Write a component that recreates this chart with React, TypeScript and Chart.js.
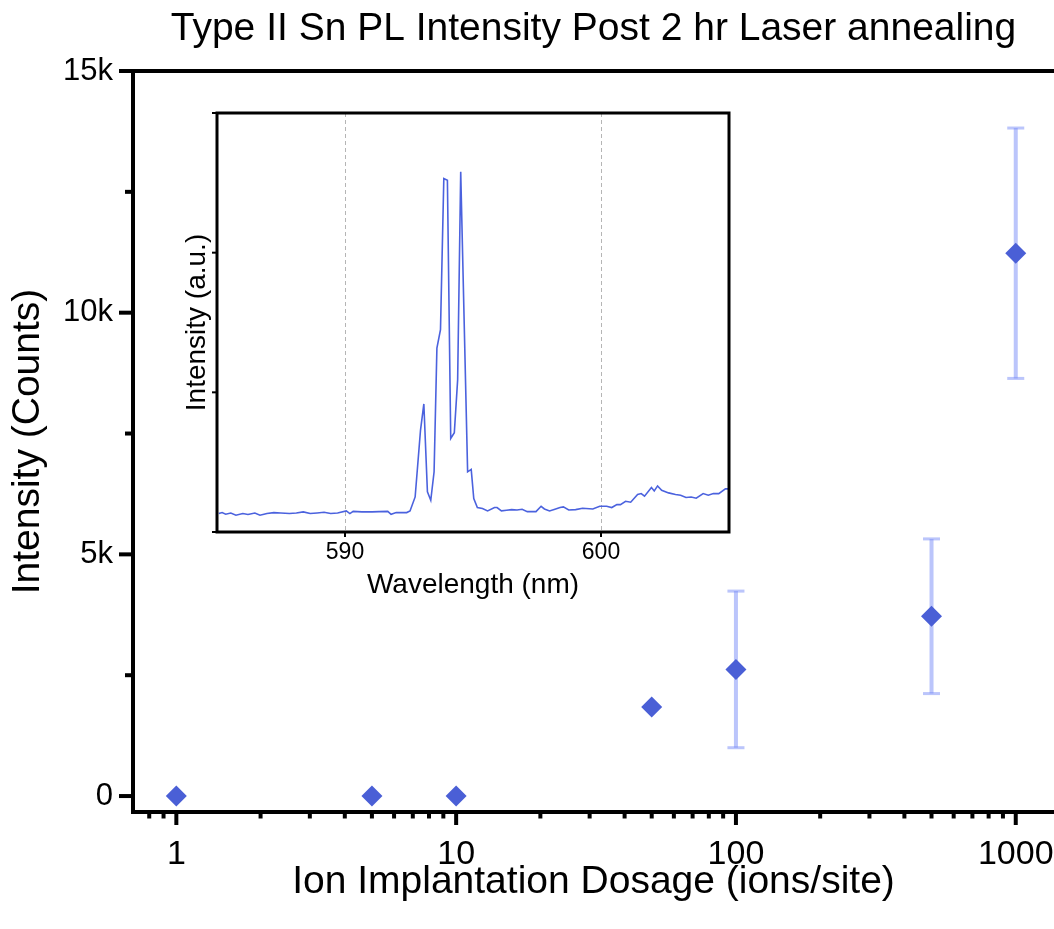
import React, { useEffect, useRef } from 'react';
import { Chart, registerables } from 'chart.js';

Chart.register(...registerables);

const FONT = '"Liberation Sans", Arial, sans-serif';
const BLUE = '#4a5fd6';
const ERR_BLUE = 'rgba(120, 140, 248, 0.5)';

// Main chart data
const dosage = [1, 5, 10, 50, 100, 500, 1000];
const intensity = [0, 0, 0, 1840, 2620, 3720, 11230];
const intensityErr = [null, null, null, null, 1620, 1600, 2590];

const xTickValues = [1, 10, 100, 1000];
const xMinorTickValues = [0.8, 0.9, 2, 3, 4, 5, 6, 7, 8, 9, 20, 30, 40, 50, 60, 70, 80, 90, 200, 300, 400, 500, 600, 700, 800, 900];
const yTickValues = [0, 5000, 10000, 15000];
const yMinorTickValues = [2500, 7500, 12500];

// Inset spectrum data
const wavelength = [
  585.07, 585.2, 585.34, 585.54, 585.74, 586.01, 586.21, 586.48, 586.68, 586.95,
  587.22, 587.49, 587.83, 588.1, 588.37, 588.64, 588.91, 589.18, 589.44, 589.71,
  590.05, 590.19, 590.32, 590.66, 591.06, 591.33, 591.67, 591.8, 592.0, 592.41,
  592.54, 592.74, 592.95, 593.08, 593.22, 593.35, 593.48, 593.59, 593.73, 593.86,
  594.0, 594.13, 594.27, 594.4, 594.52, 594.79, 594.93, 595.03, 595.17, 595.37,
  595.57, 595.84, 595.94, 596.11, 596.31, 596.51, 596.72, 596.92, 597.12, 597.46,
  597.66, 597.79, 597.99, 598.2, 598.4, 598.53, 598.74, 599.01, 599.28, 599.68,
  599.95, 600.22, 600.42, 600.62, 600.76, 600.96, 601.16, 601.43, 601.57, 601.7,
  601.97, 602.08, 602.21, 602.37, 602.64, 602.91, 603.11, 603.32, 603.52, 603.72,
  603.99, 604.19, 604.39, 604.6, 604.86, 605.0,
];
const plIntensity = [
  0.132, 0.139, 0.127, 0.136, 0.12, 0.132, 0.125, 0.136, 0.12, 0.132,
  0.139, 0.136, 0.132, 0.136, 0.144, 0.132, 0.136, 0.141, 0.132, 0.136,
  0.151, 0.132, 0.148, 0.144, 0.144, 0.146, 0.148, 0.127, 0.139, 0.139,
  0.151, 0.251, 0.73, 0.917, 0.287, 0.227, 0.431, 1.317, 1.449, 2.531,
  2.519, 0.67, 0.711, 1.089, 2.579, 0.431, 0.448, 0.239, 0.175, 0.168,
  0.151, 0.175, 0.175, 0.151, 0.156, 0.16, 0.158, 0.163, 0.146, 0.146,
  0.184, 0.165, 0.151, 0.163, 0.175, 0.18, 0.158, 0.16, 0.17, 0.165,
  0.184, 0.184, 0.175, 0.196, 0.196, 0.22, 0.213, 0.268, 0.275, 0.256,
  0.318, 0.294, 0.33, 0.299, 0.28, 0.268, 0.263, 0.247, 0.251, 0.242,
  0.275, 0.263, 0.275, 0.275, 0.309, 0.309,
];
const insetXTicks = [590, 600];
const insetYTicks = [0, 1, 2, 3];

function line(ctx: CanvasRenderingContext2D, x1: number, y1: number, x2: number, y2: number) {
  ctx.beginPath();
  ctx.moveTo(x1, y1);
  ctx.lineTo(x2, y2);
  ctx.stroke();
}

const mainPlugin = {
  id: 'mainDecor',
  beforeDatasetsDraw(chart: any) {
    const ctx = chart.ctx as CanvasRenderingContext2D;
    const xs = chart.scales.x;
    const ys = chart.scales.y;
    ctx.save();
    ctx.strokeStyle = ERR_BLUE;
    dosage.forEach((d, i) => {
      const e = intensityErr[i];
      if (e === null) return;
      const px = xs.getPixelForValue(d);
      const yt = ys.getPixelForValue(intensity[i] + e);
      const yb = ys.getPixelForValue(intensity[i] - e);
      ctx.lineWidth = 4;
      line(ctx, px, yt, px, yb);
      ctx.lineWidth = 3;
      line(ctx, px - 8.5, yt, px + 8.5, yt);
      line(ctx, px - 8.5, yb, px + 8.5, yb);
    });
    ctx.restore();
  },
  afterDraw(chart: any) {
    const ctx = chart.ctx as CanvasRenderingContext2D;
    const { left, right, top, bottom } = chart.chartArea;
    const xs = chart.scales.x;
    const ys = chart.scales.y;
    ctx.save();
    ctx.strokeStyle = '#000';
    ctx.lineWidth = 4;
    ctx.lineCap = 'butt';
    line(ctx, left, top - 2, left, bottom + 2);
    line(ctx, left - 2, bottom, right, bottom);
    line(ctx, left - 14, top, right, top);
    yTickValues.forEach((v) => {
      const py = ys.getPixelForValue(v);
      line(ctx, left - 14, py, left, py);
    });
    yMinorTickValues.forEach((v) => {
      const py = ys.getPixelForValue(v);
      line(ctx, left - 8, py, left, py);
    });
    xTickValues.forEach((v) => {
      const px = xs.getPixelForValue(v);
      line(ctx, px, bottom, px, bottom + 13);
    });
    xMinorTickValues.forEach((v) => {
      const px = xs.getPixelForValue(v);
      line(ctx, px, bottom, px, bottom + 6.5);
    });
    // title
    ctx.fillStyle = '#000';
    ctx.font = `39px ${FONT}`;
    ctx.textAlign = 'center';
    ctx.textBaseline = 'middle';
    ctx.fillText('Type II Sn PL Intensity Post 2 hr Laser annealing', (left + right) / 2, 29);
    ctx.restore();
  },
};

const insetPlugin = {
  id: 'insetDecor',
  beforeDraw(chart: any) {
    const ctx = chart.ctx as CanvasRenderingContext2D;
    const { left, right, top, bottom } = chart.chartArea;
    ctx.save();
    ctx.fillStyle = '#fff';
    ctx.fillRect(left, top, right - left, bottom - top);
    ctx.restore();
  },
  beforeDatasetsDraw(chart: any) {
    const ctx = chart.ctx as CanvasRenderingContext2D;
    const { top, bottom } = chart.chartArea;
    const xs = chart.scales.x;
    ctx.save();
    ctx.strokeStyle = '#b5b5b5';
    ctx.lineWidth = 1;
    ctx.setLineDash([4, 3]);
    insetXTicks.forEach((v) => {
      const px = Math.round(xs.getPixelForValue(v)) + 0.5;
      line(ctx, px, top, px, bottom);
    });
    ctx.restore();
  },
  afterDraw(chart: any) {
    const ctx = chart.ctx as CanvasRenderingContext2D;
    const { left, right, top, bottom } = chart.chartArea;
    const xs = chart.scales.x;
    const ys = chart.scales.y;
    ctx.save();
    ctx.strokeStyle = '#000';
    ctx.lineWidth = 3;
    ctx.strokeRect(left, top, right - left, bottom - top);
    ctx.lineWidth = 2;
    insetXTicks.forEach((v) => {
      const px = xs.getPixelForValue(v);
      line(ctx, px, bottom, px, bottom + 5);
    });
    insetYTicks.forEach((v) => {
      const py = ys.getPixelForValue(v);
      line(ctx, left - 5, py, left, py);
    });
    ctx.restore();
  },
};

export default function App() {
  const mainRef = useRef<HTMLCanvasElement>(null);
  const insetRef = useRef<HTMLCanvasElement>(null);

  useEffect(() => {
    const main = new Chart(mainRef.current as HTMLCanvasElement, {
      type: 'scatter',
      data: {
        datasets: [
          {
            data: dosage.map((d, i) => ({ x: d, y: intensity[i] })),
            pointStyle: 'rectRot',
            pointRadius: 10.5,
            pointHoverRadius: 10.5,
            backgroundColor: BLUE,
            borderColor: BLUE,
            borderWidth: 0,
          },
        ],
      },
      options: {
        animation: false,
        responsive: false,
        events: [],
        layout: { autoPadding: false, padding: { top: 71, right: 0, left: 0, bottom: 0 } },
        plugins: { legend: { display: false }, tooltip: { enabled: false }, title: { display: false } },
        scales: {
          x: {
            type: 'logarithmic',
            min: 0.7,
            max: 1370,
            grid: { display: false, drawTicks: false },
            border: { display: false },
            afterBuildTicks: (s: any) => {
              s.ticks = xTickValues.map((v) => ({ value: v }));
            },
            afterFit: (s: any) => {
              s.height = 117;
              s.paddingLeft = 0;
              s.paddingRight = 0;
            },
            ticks: {
              autoSkip: false,
              maxRotation: 0,
              minRotation: 0,
              padding: 22,
              color: '#000',
              font: { family: FONT, size: 34 },
              callback: (v: any) => String(v),
            },
            title: {
              display: true,
              text: 'Ion Implantation Dosage (ions/site)',
              color: '#000',
              font: { family: FONT, size: 39 },
              padding: { top: 0, bottom: 23 },
            },
          },
          y: {
            type: 'linear',
            min: -330,
            max: 15000,
            grid: { display: false, drawTicks: false },
            border: { display: false },
            afterBuildTicks: (s: any) => {
              s.ticks = yTickValues.map((v) => ({ value: v }));
            },
            afterFit: (s: any) => {
              s.width = 133;
              s.paddingTop = 0;
              s.paddingBottom = 0;
            },
            ticks: {
              padding: 20,
              color: '#000',
              font: { family: FONT, size: 31 },
              callback: (v: any) => (v === 0 ? '0' : `${v / 1000}k`),
            },
            title: {
              display: true,
              text: 'Intensity (Counts)',
              color: '#000',
              font: { family: FONT, size: 39 },
              padding: { top: 5, bottom: 0 },
            },
          },
        },
      },
      plugins: [mainPlugin],
    } as any);

    const inset = new Chart(insetRef.current as HTMLCanvasElement, {
      type: 'line',
      data: {
        datasets: [
          {
            data: wavelength.map((w, i) => ({ x: w, y: plIntensity[i] })),
            borderColor: '#4b62de',
            borderWidth: 1.6,
            pointRadius: 0,
            fill: false,
            tension: 0,
          },
        ],
      },
      options: {
        animation: false,
        responsive: false,
        events: [],
        layout: { autoPadding: false, padding: { top: 13, right: 21, left: 0, bottom: 0 } },
        plugins: { legend: { display: false }, tooltip: { enabled: false } },
        scales: {
          x: {
            type: 'linear',
            min: 585,
            max: 605,
            grid: { display: false, drawTicks: false },
            border: { display: false },
            afterBuildTicks: (s: any) => {
              s.ticks = insetXTicks.map((v) => ({ value: v }));
            },
            afterFit: (s: any) => {
              s.height = 88;
              s.paddingLeft = 0;
              s.paddingRight = 0;
            },
            ticks: {
              autoSkip: false,
              maxRotation: 0,
              padding: 7,
              color: '#000',
              font: { family: FONT, size: 23 },
              callback: (v: any) => String(v),
            },
            title: {
              display: true,
              text: 'Wavelength (nm)',
              color: '#000',
              font: { family: FONT, size: 28 },
              padding: { top: 0, bottom: 18 },
            },
          },
          y: {
            type: 'linear',
            min: 0,
            max: 3,
            grid: { display: false, drawTicks: false },
            border: { display: false },
            afterBuildTicks: (s: any) => {
              s.ticks = insetYTicks.map((v) => ({ value: v }));
            },
            afterFit: (s: any) => {
              s.width = 67;
              s.paddingTop = 0;
              s.paddingBottom = 0;
            },
            ticks: { display: false },
            title: {
              display: true,
              text: 'Intensity (a.u.)',
              color: '#000',
              font: { family: FONT, size: 28 },
              padding: { top: 30, bottom: 0 },
            },
          },
        },
      },
      plugins: [insetPlugin],
    } as any);

    return () => {
      main.destroy();
      inset.destroy();
    };
  }, []);

  return (
    <div style={{ position: 'absolute', left: 0, top: 0, width: 1054, height: 929, background: '#fff' }}>
      <canvas ref={mainRef} width={1054} height={929} style={{ position: 'absolute', left: 0, top: 0, width: 1054, height: 929 }} />
      <canvas ref={insetRef} width={600} height={520} style={{ position: 'absolute', left: 150, top: 100, width: 600, height: 520 }} />
    </div>
  );
}
